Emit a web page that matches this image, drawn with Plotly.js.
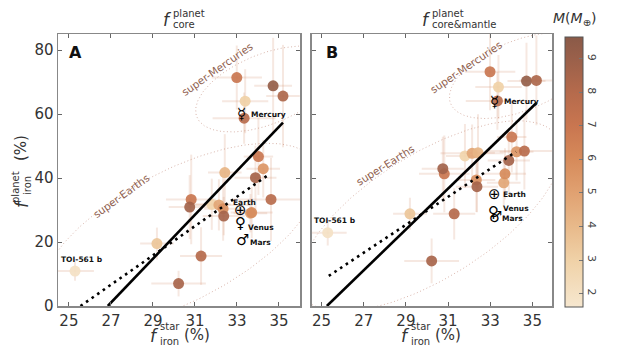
<!DOCTYPE html>
<html><head><meta charset="utf-8">
<script src="https://cdn.plot.ly/plotly-3.0.1.min.js"></script>
<style>html,body{margin:0;padding:0;background:#fff}#chart{width:620px;height:358px}</style>
</head><body><div id="chart"></div>
<script>
// ---------------- data ----------------
const starIron = [25.29, 29.19, 30.22, 31.29, 30.82, 30.75, 31.8, 32.14, 32.34, 32.37, 32.42, 32.99, 33.39, 33.34, 33.64, 33.7, 34.02, 34.25, 33.88, 34.62, 34.72, 35.19];
const starIronErr = [0.9, 0.8, 1.3, 1.0, 1.2, 1.0, 0.9, 1.5, 0.9, 1.0, 0.8, 1.2, 1.1, 1.5, 0.8, 1.0, 0.7, 0.8, 1.0, 1.8, 0.9, 0.8];
const planetMass = [2.0, 3.5, 8.5, 8.0, 7.0, 8.7, 2.8, 4.8, 5.8, 8.6, 4.2, 7.0, 3.0, 7.8, 4.8, 6.0, 7.0, 5.5, 8.6, 7.8, 9.2, 8.3];
const ironCore = [10.9, 19.5, 7.0, 15.6, 33.3, 30.9, 31.8, 31.6, 30.4, 28.1, 41.7, 71.4, 64.0, 58.7, 29.0, 29.2, 46.7, 42.9, 40.1, 33.3, 68.8, 65.6];
const ironCoreErr = [3, 5, 4, 9, 14, 10, 8, 8, 10, 6, 12, 10, 10, 8, 6, 8, 12, 9, 10, 13, 15, 16];
const ironCoreMantle = [22.9, 28.8, 14.1, 28.8, 41.3, 42.9, 46.9, 47.7, 39.4, 37.3, 47.9, 73.2, 68.4, 64.1, 38.5, 41.3, 52.8, 48.2, 45.5, 48.4, 70.3, 70.5];
const ironCoreMantleErr = [4, 5, 7, 8, 12, 10, 10, 9, 10, 8, 12, 12, 10, 9, 7, 8, 11, 9, 10, 12, 12, 14];

const solarNames = ['Mercury', 'Earth', 'Venus', 'Mars'];
const solarGlyphs = ['\u263F', '\u2295', '\u2640', '\u2642'];
const solarStarIron = [33.22, 33.18, 33.16, 33.15];
const solarCore = [59.9, 29.9, 26.9, 20.1];
const solarCoreMantle = [63.8, 34.9, 30.4, 27.3];

const fitSolidA = {x: [26.85, 35.19], y: [0, 57.3]};
const fitDotA = {x: [25.55, 34.5], y: [0, 41.0]};
const fitSolidB = {x: [25.25, 35.2], y: [0, 63.5]};
const fitDotB = {x: [25.34, 34.22], y: [9.4, 48.2]};

const massTicks = [2, 3, 4, 5, 6, 7, 8, 9];
const xTicks = [25, 27, 29, 31, 33, 35];
const yTicks = [0, 20, 40, 60, 80];

// ---------------- layout constants ----------------
const W = 620, H = 358, ML = 58, MR = 68, MT = 34, MB = 52;
const PW = W - ML - MR, PH = H - MT - MB;
const FONT = 'DejaVu Sans';
const xRangeA = [24.48, 36.0], xRangeB = [24.53, 35.93], yRange = [0, 85];
const domA = [0, 242 / PW], domB = [(311.7 - ML) / PW, 1];
const sxA = (domA[1] - domA[0]) * PW / (xRangeA[1] - xRangeA[0]);
const sxB = (domB[1] - domB[0]) * PW / (xRangeB[1] - xRangeB[0]);
const sy = PH / (yRange[1] - yRange[0]);

const colorscale = [
  [0.0, '#f6e7cf'], [0.17, '#f0d2a8'], [0.30, '#e8b98a'], [0.43, '#e0a070'],
  [0.55, '#d68a5a'], [0.67, '#c97650'], [0.80, '#b46a4c'], [0.92, '#9a604a'], [1.0, '#8a5a48']
];
const cmin = 1.6, cmax = 9.65;

function ellipse(cx, cy, a, b, angDeg, sx) {
  const th = angDeg * Math.PI / 180, xs = [], ys = [];
  for (let i = 0; i <= 200; i++) {
    const t = 2 * Math.PI * i / 200;
    const u = a * Math.cos(t), v = b * Math.sin(t);
    xs.push(cx + (u * Math.cos(th) - v * Math.sin(th)) / sx);
    ys.push(cy + (u * Math.sin(th) + v * Math.cos(th)) / sy);
  }
  return {x: xs, y: ys};
}

const traces = [];
function addPanel(xa, ya, yvals, yerr, sx, ell1, ell2, solid, dot, showScale) {
  [ell1, ell2].forEach(e => traces.push({
    type: 'scatter', mode: 'lines', x: e.x, y: e.y, xaxis: xa, yaxis: ya,
    line: {color: '#d9b5ab', width: 1, dash: '1px,2.5px'}, hoverinfo: 'skip', showlegend: false
  }));
  traces.push({
    type: 'scatter', mode: 'markers', x: starIron, y: yvals, xaxis: xa, yaxis: ya,
    error_x: {type: 'data', array: starIronErr, color: 'rgba(215,150,120,0.22)', thickness: 2, width: 0},
    error_y: {type: 'data', array: yerr, color: 'rgba(215,150,120,0.22)', thickness: 2, width: 0},
    marker: {
      size: 11, color: planetMass, colorscale: colorscale, cmin: cmin, cmax: cmax, opacity: 0.92,
      line: {width: 0}, showscale: showScale,
      colorbar: {
        x: (565 - ML) / PW, xanchor: 'left', y: (H - MB - 172) / PH, yanchor: 'middle',
        len: 270, lenmode: 'pixels', thickness: 18, thicknessmode: 'pixels',
        outlinewidth: 1, outlinecolor: '#555', xpad: 0, ypad: 0,
        tickvals: massTicks, ticks: 'inside', ticklen: 4, tickcolor: '#777',
        tickangle: 90, tickfont: {family: FONT, size: 11, color: '#444'}
      }
    },
    showlegend: false, cliponaxis: false
  });
  traces.push({
    type: 'scatter', mode: 'lines', x: solid.x, y: solid.y, xaxis: xa, yaxis: ya,
    line: {color: '#000', width: 2.6}, showlegend: false
  });
  traces.push({
    type: 'scatter', mode: 'lines', x: dot.x, y: dot.y, xaxis: xa, yaxis: ya,
    line: {color: '#000', width: 2.6, dash: '2.6px,4.2px'}, showlegend: false
  });
}

addPanel('x', 'y', ironCore, ironCoreErr, sxA,
  ellipse(30.25, 21.9, 155, 65, 28, sxA), ellipse(34.4, 67.8, 75, 35, 22, sxA),
  fitSolidA, fitDotA, true);
addPanel('x2', 'y2', ironCoreMantle, ironCoreMantleErr, sxB,
  ellipse(30.14, 28.1, 150, 62, 32, sxB), ellipse(34.42, 72.0, 75, 35, 22, sxB),
  fitSolidB, fitDotB, false);

// ---------------- annotations ----------------
const ann = [];
function P(px, py) { return {x: (px - ML) / PW, y: (H - MB - py) / PH}; }
function txt(px, py, text, size, o) {
  o = o || {};
  const p = P(px, py);
  ann.push({
    x: p.x, y: p.y, xref: 'paper', yref: 'paper', text: text, showarrow: false,
    xanchor: o.xanchor || 'center', yanchor: 'middle',
    font: {family: FONT, size: size, color: o.color || '#333'}, textangle: o.angle || 0
  });
}
// panel titles
txt(167, 20, '<i>f</i>', 17);
txt(171, 13, 'planet', 10, {xanchor: 'left'});
txt(171, 25, 'core', 10, {xanchor: 'left'});
txt(426, 20, '<i>f</i>', 17);
txt(430, 13, 'planet', 10, {xanchor: 'left'});
txt(430, 25, 'core&amp;mantle', 10, {xanchor: 'left'});
// x titles
[[154, 158, 182], [405, 409, 433]].forEach(c => {
  txt(c[0], 336, '<i>f</i>', 17);
  txt(c[1], 326, 'star', 10, {xanchor: 'left'});
  txt(c[1], 341, 'iron', 10, {xanchor: 'left'});
  txt(c[2], 335, '(%)', 15, {xanchor: 'left'});
});
// y title
txt(22, 204, '<i>f</i>', 17, {angle: -90});
txt(15, 187, 'planet', 10, {angle: -90});
txt(27, 186, 'iron', 10, {angle: -90});
txt(21, 148, '(%)', 15, {angle: -90});
// colorbar title
txt(574, 19, '<i>M</i>(<i>M</i><sub>\u2295</sub>)', 14);
// panel letters
txt(75, 52, '<b>A</b>', 16, {color: '#111'});
txt(332, 52, '<b>B</b>', 16, {color: '#111'});

function dataAnn(xr, yr, x, y, text, size, o) {
  o = o || {};
  ann.push({
    x: x, y: y, xref: xr, yref: yr, text: text, showarrow: false,
    xanchor: o.xanchor || 'center', yanchor: 'middle', xshift: o.dx || 0, yshift: o.dy || 0,
    font: {family: FONT, size: size, color: o.color || '#111'}, textangle: o.angle || 0
  });
}
// region labels
const regionColor = '#8f5f50';
dataAnn('x', 'y', 27.47, 34.4, 'super-Earths', 10.5, {angle: -36, color: regionColor});
dataAnn('x', 'y', 32.05, 74.1, 'super-Mercuries', 10.5, {angle: -35, color: regionColor});
dataAnn('x2', 'y2', 28.02, 44.1, 'super-Earths', 10.5, {angle: -32, color: regionColor});
dataAnn('x2', 'y2', 31.84, 74.7, 'super-Mercuries', 10.5, {angle: -34, color: regionColor});
// TOI-561 b
dataAnn('x', 'y', starIron[0], ironCore[0], '<b>TOI-561 b</b>', 7.5, {dx: 7, dy: 12});
dataAnn('x2', 'y2', starIron[0], ironCoreMantle[0], '<b>TOI-561 b</b>', 7.5, {dx: 7, dy: 12});
// solar system glyphs + labels
const glyphShift = [{dy: 0}, {dy: 0}, {dy: -3}, {dy: 2, dx: 2}];
for (let i = 0; i < 4; i++) {
  dataAnn('x', 'y', solarStarIron[i], solarCore[i], solarGlyphs[i], 15, Object.assign({color: '#000'}, glyphShift[i]));
  dataAnn('x2', 'y2', solarStarIron[i], solarCoreMantle[i], solarGlyphs[i], 15, Object.assign({color: '#000'}, glyphShift[i]));
}
const labA = [{dx: 7, dy: 0, xa: 'left'}, {dx: 4, dy: 8, xa: 'center'}, {dx: 6, dy: -8, xa: 'left'}, {dx: 8, dy: -1, xa: 'left'}];
for (let i = 0; i < 4; i++) {
  dataAnn('x', 'y', solarStarIron[i], solarCore[i], '<b>' + solarNames[i] + '</b>', 7.5,
    {dx: labA[i].dx, dy: labA[i].dy, xanchor: labA[i].xa});
  dataAnn('x2', 'y2', solarStarIron[i], solarCoreMantle[i], '<b>' + solarNames[i] + '</b>', 7.5,
    {dx: 7, dy: 0, xanchor: 'left'});
}

function axis(extra) {
  return Object.assign({
    showline: true, linecolor: '#888', linewidth: 1.5, mirror: 'ticks',
    ticks: 'inside', ticklen: 4, tickwidth: 1, tickcolor: '#666',
    showgrid: false, zeroline: false,
    tickfont: {family: FONT, size: 15, color: '#333'}
  }, extra);
}

const layout = {
  width: W, height: H, margin: {l: ML, r: MR, t: MT, b: MB},
  paper_bgcolor: '#fff', plot_bgcolor: '#fff', showlegend: false,
  xaxis: axis({domain: domA, range: xRangeA, tickvals: xTicks, anchor: 'y'}),
  yaxis: axis({domain: [0, 1], range: yRange, tickvals: yTicks, anchor: 'x'}),
  xaxis2: axis({domain: domB, range: xRangeB, tickvals: xTicks, anchor: 'y2'}),
  yaxis2: axis({domain: [0, 1], range: yRange, tickvals: yTicks, anchor: 'x2', showticklabels: false}),
  annotations: ann
};

Plotly.newPlot('chart', traces, layout, {staticPlot: true, displayModeBar: false});
</script></body></html>
